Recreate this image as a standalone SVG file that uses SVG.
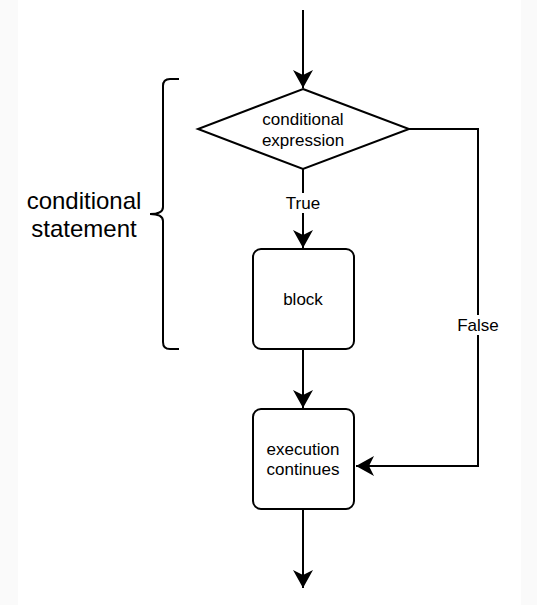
<svg xmlns="http://www.w3.org/2000/svg" width="537" height="605" viewBox="0 0 537 605">
<style>
.ln{fill:none;stroke:#000;stroke-width:2}
.nd{fill:#fff;stroke:#000;stroke-width:2}
.t{font-family:"Liberation Sans",Arial,sans-serif;font-size:17px;fill:#000;text-anchor:middle}
.big{font-size:24px}
</style>
<defs>
<marker id="ar" viewBox="0 0 20 20" refX="18" refY="10" markerWidth="20" markerHeight="20" markerUnits="userSpaceOnUse" orient="auto">
<path d="M0,0 L18,10 L0,20 L5,10 Z" fill="#000"/>
</marker>
</defs>
<rect width="537" height="605" fill="#fafafa"/>
<rect x="18" y="0" width="503" height="605" fill="#fff"/>
<g id="connectors">
<path class="ln" d="M303,10 V88" marker-end="url(#ar)"/>
<path class="ln" d="M303,169 V248" marker-end="url(#ar)"/>
<path class="ln" d="M303,349 V408" marker-end="url(#ar)"/>
<path class="ln" d="M303,509 V588" marker-end="url(#ar)"/>
<path class="ln" d="M409,129 H478 V466 H356" marker-end="url(#ar)"/>
<rect x="282" y="193" width="42" height="20" fill="#fff"/>
<text class="t" x="303" y="209">True</text>
<rect x="455" y="315" width="48" height="20" fill="#fff"/>
<text class="t" x="478" y="331">False</text>
</g>
<g id="decision">
<polygon class="nd" points="303,89 409,129 303,169 198,129"/>
<text class="t" x="303" y="125">conditional</text>
<text class="t" x="303" y="146">expression</text>
</g>
<g id="block">
<rect class="nd" x="253" y="249" width="101" height="100" rx="8"/>
<text class="t" x="303" y="305">block</text>
</g>
<g id="execution">
<rect class="nd" x="253" y="409" width="101" height="100" rx="8"/>
<text class="t" x="303" y="455">execution</text>
<text class="t" x="303" y="475">continues</text>
</g>
<g id="brace">
<path class="ln" d="M179,79 H170 Q163,79 163,86 V207 Q163,214 150,214 Q163,214 163,221 V342 Q163,349 170,349 H179"/>
<text class="t big" x="84" y="209">conditional</text>
<text class="t big" x="84" y="237">statement</text>
</g>
</svg>
